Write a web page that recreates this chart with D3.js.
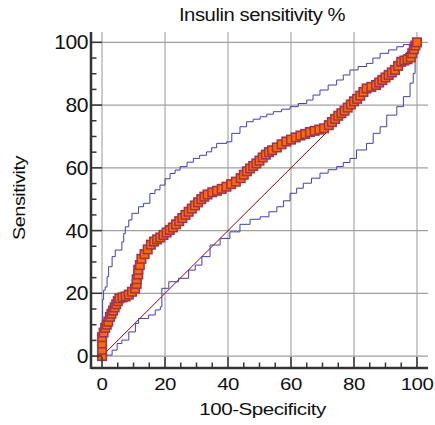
<!DOCTYPE html>
<html>
<head>
<meta charset="utf-8">
<script src="https://cdn.jsdelivr.net/npm/d3@7"></script>
<style>
  body { margin: 0; background: #fff; }
  text { font-family: "Liberation Sans", Arial, sans-serif; fill: #111; }
</style>
</head>
<body>
<div id="roc"></div>
<script>
// ROC curve points (100-specificity, sensitivity)
var fpr = [0, 0, 0, 0, 0.5, 1, 1.5, 2, 2.5, 3, 3.5, 4, 4.5, 5, 5.5, 6.5, 7.5, 8.5, 9.5, 10.5,
  11, 11, 11.5, 11.5, 12, 12.5, 13.5, 14.5, 15.5, 16.5, 17.5, 18.5, 19.5, 20.5, 21.5, 22.5,
  23.5, 24.5, 25.5, 26.5, 27.5, 28.5, 29.5, 30.5, 31.5, 32.5, 33.5, 35, 36.5, 38, 39.5, 41,
  42.5, 44, 45, 46, 47, 48, 49, 50, 51, 52, 53, 54, 55.5, 57, 58.5, 60, 61.5, 63, 64.5, 66,
  67.5, 69, 70.5, 72, 73, 74, 75, 76, 77, 78, 79, 80, 81, 82, 83, 84, 85.5, 87, 88, 89, 90,
  91, 92, 93, 94, 95, 96, 97, 98, 98.5, 99, 99.5, 100]
var tpr = [0, 2, 4, 6, 7.5, 9, 10, 11, 12.5, 13.5, 14.5, 15.5, 16.5, 17.5, 18.4, 18.7, 19, 19.6, 20.5, 21.5,
  23, 24.5, 26, 27.5, 29, 31, 32.5, 34, 35.5, 36.5, 37.2, 37.8, 38.6, 39.4, 40.2, 41,
  42, 43, 44, 45, 46, 47, 48, 49, 50, 50.8, 51.5, 52.2, 52.7, 53.3, 54, 54.8,
  55.6, 56.7, 57.8, 58.9, 59.8, 60.6, 61.4, 62.3, 63.3, 64.2, 65, 65.6, 66.5, 67.5, 68.4, 69, 69.7, 70.3, 70.8, 71.4,
  71.8, 72.2, 72.6, 73.6, 74.6, 75.6, 76.6, 77.4, 78.2, 79.2, 80.2, 81.2, 82, 83, 84.2, 85.3, 85.8, 86.4, 87.2, 88, 88.8,
  89.6, 90.4, 91.2, 92.5, 93.8, 94.2, 94.6, 95.2, 96.5, 97.8, 99, 100]

// upper and lower confidence bounds
var upperX = [0, 0, 0.2, 0.5, 1, 1.6, 2.1, 3.2, 4.2, 6.3, 6.9, 7.4, 8.5, 9.5, 11.6, 13.2, 15.2, 16.8, 18.4,
  20, 21.6, 23.2, 24.8, 27, 29, 31, 33.2, 34.8, 36.4, 39.6, 41.2, 43.8, 45.9, 48, 50.2, 52.3, 54.4,
  57, 59.7, 62.3, 65, 67, 69.2, 71.8, 74.5, 76.6, 78.7, 81.3, 84, 86, 88.3, 91, 93.6, 95.7, 97.8, 100]
var upperY = [0, 10, 18, 21, 22, 25.3, 28.5, 31.7, 33.8, 36.4, 39.1, 41.2, 43.4, 45.5, 47.6, 48.7, 51.8, 53, 54.5,
  56.5, 58.2, 59.3, 60.4, 61.8, 63, 64, 65.1, 66.4, 67.8, 68.3, 71, 73.1, 74.7, 75.5, 76.3, 77.1, 77.9,
  78.7, 79.5, 80.5, 81.6, 83.2, 84.8, 86.4, 88, 89.6, 91.2, 92.3, 93.3, 95, 96.5, 97.6, 98.6, 99.3, 99.9, 100]
var lowerX = [0, 1.6, 3.2, 4.8, 6.3, 8.5, 10.6, 11.6, 14.8, 16.9, 18.5, 19, 19, 21.2, 24.3, 27.5, 29.6, 31.7,
  34.3, 37.5, 40.6, 43.8, 47, 50.2, 53, 55.5, 57.6, 59.7, 61.8, 63.9, 66.5, 69.2, 71.8, 74.5, 76.6, 78.7,
  80.8, 84, 86.1, 88.3, 90.4, 93.6, 95.7, 97.8, 98.8, 99.4, 99.9, 100]
var lowerY = [0, 0.3, 1.9, 4, 5.1, 7.7, 10.4, 12, 13.1, 14.7, 15.7, 18.9, 21.6, 23.7, 24.8, 27.4, 29, 31.7,
  35.4, 37.5, 39.6, 42, 43.6, 44.4, 46, 47.6, 49.5, 51.9, 53.5, 55.1, 56.7, 58.3, 59.4, 60.4, 61.7, 63,
  65.7, 67.8, 71, 73.1, 76.8, 79.5, 82.7, 87, 90.1, 95.4, 99.6, 100]

var majorTicks = [0, 20, 40, 60, 80, 100]
var minorTicks = d3.range(0, 101, 5)

var width = 435,
    height = 425,
    plot = {left: 91, right: 428, top: 32, bottom: 368}

var svg = d3.select('#roc')
  .append('svg')
    .attr('width', width)
    .attr('height', height)

var x = d3.scaleLinear().domain([-3.5, 103.5]).range([plot.left, plot.right])
var y = d3.scaleLinear().domain([-3.8, 103.3]).range([plot.bottom, plot.top])

// grid
svg.append('g').selectAll('line.v')
    .data(majorTicks)
  .enter().append('line')
    .attr('x1', d => x(d)).attr('x2', d => x(d))
    .attr('y1', plot.top).attr('y2', plot.bottom)
    .attr('stroke', '#a8a8a8').attr('stroke-width', 1.2)
svg.append('g').selectAll('line.h')
    .data(majorTicks)
  .enter().append('line')
    .attr('y1', d => y(d)).attr('y2', d => y(d))
    .attr('x1', plot.left).attr('x2', plot.right)
    .attr('stroke', '#a0a0a0').attr('stroke-width', 1.2)

// diagonal reference
svg.append('line')
    .attr('x1', x(0)).attr('y1', y(0))
    .attr('x2', x(100)).attr('y2', y(100))
    .attr('stroke', '#8b0000').attr('stroke-width', 1)

// confidence bounds
var band = d3.line().x(d => x(d[0])).y(d => y(d[1])).curve(d3.curveStepAfter)
;[[upperX, upperY], [lowerX, lowerY]].forEach(function(b){
  svg.append('path')
      .attr('d', band(b[0].map((v, i) => [v, b[1][i]])))
      .attr('fill', 'none')
      .attr('stroke', '#4040aa')
      .attr('stroke-width', 1)
})

// ROC curve
var pts = fpr.map((v, i) => [v, tpr[i]])
svg.append('path')
    .attr('d', d3.line().x(d => x(d[0])).y(d => y(d[1]))(pts))
    .attr('fill', 'none')
    .attr('stroke', '#a03040')
    .attr('stroke-width', 1)

var s = 8.5
svg.append('g').selectAll('rect')
    .data(pts)
  .enter().append('rect')
    .attr('x', d => x(d[0]) - s/2)
    .attr('y', d => y(d[1]) - s/2)
    .attr('width', s).attr('height', s)
    .attr('fill', '#ff6a00')
    .attr('stroke', '#a0344e')
    .attr('stroke-width', 1.6)

// axes
var axisColor = '#333'
svg.append('line')
    .attr('x1', plot.left).attr('x2', plot.left)
    .attr('y1', plot.top).attr('y2', plot.bottom + 1)
    .attr('stroke', axisColor).attr('stroke-width', 2.5)
svg.append('line')
    .attr('x1', plot.left).attr('x2', plot.right)
    .attr('y1', plot.bottom).attr('y2', plot.bottom)
    .attr('stroke', axisColor).attr('stroke-width', 2.5)

svg.append('g').selectAll('line')
    .data(minorTicks)
  .enter().append('line')
    .attr('x1', d => x(d)).attr('x2', d => x(d))
    .attr('y1', plot.bottom).attr('y2', d => plot.bottom - (d % 20 ? 5.5 : 11))
    .attr('stroke', axisColor).attr('stroke-width', 1.5)
svg.append('g').selectAll('line')
    .data(minorTicks)
  .enter().append('line')
    .attr('y1', d => y(d)).attr('y2', d => y(d))
    .attr('x1', plot.left).attr('x2', d => plot.left + (d % 20 ? 5.5 : 11))
    .attr('stroke', axisColor).attr('stroke-width', 1.5)

// text, stretched horizontally like the original's wide face
function label(txt, tx, ty, size, sx, anchor, rot){
  svg.append('text')
      .attr('transform', 'translate(' + tx + ',' + ty + ')' + (rot ? ' rotate(' + rot + ')' : '') + ' scale(' + sx + ',1)')
      .attr('text-anchor', anchor)
      .style('font-size', size + 'px')
      .style('letter-spacing', '-0.4px')
      .text(txt)
}

majorTicks.forEach(function(d){
  label(d, 88, y(d) + 7, 19.5, 1.08, 'end')
  label(d, x(d), 390, 16.5, 1.24, 'middle')
})

label('Insulin sensitivity %', 262, 21, 17.5, 1.16, 'middle')
label('100-Specificity', 262.5, 415, 16.5, 1.25, 'middle')
label('Sensitivity', 24.5, 198, 16, 1.24, 'middle', -90)
</script>
</body>
</html>
